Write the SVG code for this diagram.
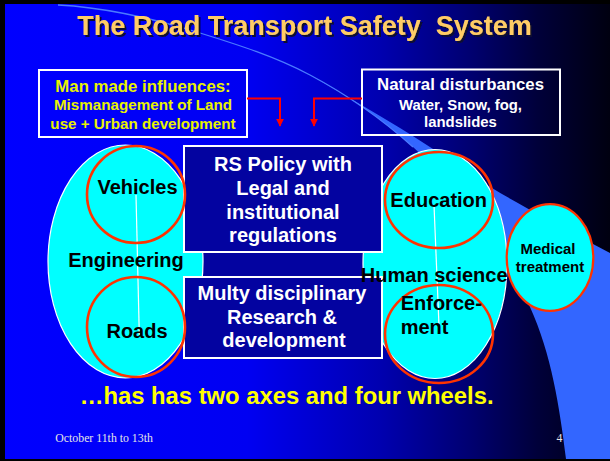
<svg xmlns="http://www.w3.org/2000/svg" width="610" height="461" viewBox="0 0 610 461">
  <style>
    .b { font-family: "Liberation Sans", Arial, sans-serif; font-weight: bold; }
    .wt { fill: #FFFFFF; }
    .bk { fill: #000000; }
    .ylw { fill: #E8F200; }
    .frame { fill: none; stroke: #FFFFFF; stroke-width: 2; }
    .panel { fill: #0303A0; stroke: #FFFFFF; stroke-width: 2; }
    .blob { fill: #00FFFF; stroke: #FFFFFF; stroke-width: 1.2; }
    .ring { fill: none; stroke: #FF3300; stroke-width: 2.6; }
    .link { fill: none; stroke: #FF0000; stroke-width: 2; }
    .axis { fill: none; stroke: #FFFFFF; stroke-width: 1.2; }
  </style>
  <defs>
    <linearGradient id="bg" gradientUnits="userSpaceOnUse" x1="5" y1="0" x2="610" y2="0">
      <stop offset="0" stop-color="#0000FF"/>
      <stop offset="0.40" stop-color="#0000F2"/>
      <stop offset="0.62" stop-color="#0000B0"/>
      <stop offset="0.77" stop-color="#000070"/>
      <stop offset="0.88" stop-color="#00003A"/>
      <stop offset="1" stop-color="#000010"/>
    </linearGradient>
    <filter id="shadow" x="-5%" y="-30%" width="110%" height="160%">
      <feDropShadow dx="2" dy="2" stdDeviation="0.4" flood-color="#101030" flood-opacity="1"/>
    </filter>
    <marker id="arr" viewBox="0 0 10 10" refX="9" refY="5" markerWidth="4" markerHeight="4" orient="auto">
      <path d="M0,0 L10,5 L0,10 Z" fill="#FF0000"/>
    </marker>
  </defs>

  <!-- slide frame and background -->
  <rect x="0" y="0" width="610" height="461" fill="#000000"/>
  <rect x="5" y="4" width="605" height="455" fill="url(#bg)"/>

  <!-- decorative swoosh -->
  <path d="M 310,75 C 347,94.6 381.9,119 413,147 C 462,191.2 502.7,247 530,307 C 551.5,354.3 559.6,407.4 566,459 L 610,459 L 610,253 C 560,226 520,205 492,188 C 460,168 430,146 400,128 C 370,110 340,92 310,75 Z" fill="#3366FF"/>
  <path d="M 58,5 C 106,7.4 154,18.7 200,33 C 237.5,44.6 275.3,56.6 310,75 C 347,94.6 381.9,119 413,147" fill="none" stroke="#4A7AFF" stroke-width="1.3"/>

  <!-- title -->
  <text class="b" x="304.5" y="35" font-size="27" text-anchor="middle" fill="#FFCC66" filter="url(#shadow)" style="white-space: pre">The Road Transport Safety  System</text>

  <!-- influence boxes -->
  <g id="man-made">
    <rect class="frame" x="39" y="70" width="208" height="67"/>
    <text class="b ylw" x="143" y="91.5" font-size="16.8" text-anchor="middle">Man made influences:</text>
    <text class="b ylw" x="143" y="110" font-size="15.2" text-anchor="middle">Mismanagement of Land</text>
    <text class="b ylw" x="143" y="128.5" font-size="15.2" text-anchor="middle">use + Urban development</text>
  </g>
  <g id="natural">
    <rect class="frame" x="362" y="69.5" width="198" height="65.5"/>
    <text class="b wt" x="460.5" y="90" font-size="16.8" text-anchor="middle">Natural disturbances</text>
    <text class="b wt" x="460.5" y="109.5" font-size="14.9" text-anchor="middle">Water, Snow, fog,</text>
    <text class="b wt" x="460.5" y="126.5" font-size="14.9" text-anchor="middle">landslides</text>
  </g>

  <!-- band joining the two wheel groups -->
  <g id="bridge">
    <rect class="panel" x="190" y="252" width="185" height="25"/>
  </g>

  <!-- large ellipses -->
  <g id="engineering">
    <ellipse class="blob" cx="125.5" cy="261.5" rx="77.5" ry="116.5"/>
  </g>
  <g id="human-science">
    <ellipse class="blob" cx="435" cy="264" rx="72" ry="114.5"/>
  </g>

  <!-- central panels -->
  <g id="policy">
    <rect class="panel" x="184" y="146" width="198" height="106"/>
    <text class="b wt" x="283" y="170.5" font-size="20" text-anchor="middle">RS Policy with</text>
    <text class="b wt" x="283" y="195" font-size="20" text-anchor="middle">Legal and</text>
    <text class="b wt" x="283" y="219" font-size="20" text-anchor="middle">institutional</text>
    <text class="b wt" x="283" y="242" font-size="20" text-anchor="middle">regulations</text>
  </g>
  <g id="research">
    <rect class="panel" x="184" y="277" width="198" height="81"/>
    <text class="b wt" x="282" y="300" font-size="20" text-anchor="middle">Multy disciplinary</text>
    <text class="b wt" x="282" y="324" font-size="20" text-anchor="middle">Research &amp;</text>
    <text class="b wt" x="284" y="346.5" font-size="20" text-anchor="middle">development</text>
  </g>

  <!-- connectors -->
  <g id="connectors">
    <path class="link" d="M 247,98.5 H 280 V 126" marker-end="url(#arr)"/>
    <path class="link" d="M 362,98.5 H 314 V 126" marker-end="url(#arr)"/>
    <line class="axis" x1="136" y1="195" x2="139.3" y2="335"/>
    <line class="axis" x1="434" y1="205" x2="439.3" y2="333"/>
  </g>

  <!-- wheels -->
  <g id="vehicles">
    <ellipse class="ring" cx="136" cy="194.5" rx="49" ry="48.5"/>
    <text class="b bk" x="137.5" y="194" font-size="20" text-anchor="middle">Vehicles</text>
  </g>
  <g id="roads">
    <ellipse class="ring" cx="136" cy="327" rx="49" ry="50"/>
    <text class="b bk" x="137" y="338.3" font-size="20" text-anchor="middle">Roads</text>
  </g>
  <g id="education">
    <ellipse class="ring" cx="439" cy="200" rx="54" ry="48"/>
    <text class="b bk" x="438.7" y="206.7" font-size="20" text-anchor="middle">Education</text>
  </g>
  <g id="enforcement">
    <ellipse class="ring" cx="439" cy="334" rx="54" ry="49"/>
    <text class="b bk" x="400.7" y="310" font-size="20">Enforce-</text>
    <text class="b bk" x="400.7" y="334" font-size="20">ment</text>
  </g>

  <!-- group labels -->
  <text class="b bk" x="126" y="266.7" font-size="20" text-anchor="middle">Engineering</text>
  <text class="b bk" x="434.2" y="281.7" font-size="20" text-anchor="middle">Human science</text>

  <g id="medical">
    <ellipse cx="550" cy="257.5" rx="43.3" ry="53.3" fill="#00FFFF" stroke="#FF3300" stroke-width="2.2"/>
    <text class="b bk" x="548" y="254.3" font-size="15" text-anchor="middle">Medical</text>
    <text class="b bk" x="550" y="271.7" font-size="15" text-anchor="middle">treatment</text>
  </g>

  <!-- caption and footer -->
  <text class="b" x="286.6" y="403.5" font-size="23.8" text-anchor="middle" fill="#FFFF00">…has has two axes and four wheels.</text>
  <text x="55.3" y="441.7" font-family="Liberation Serif, Times New Roman, serif" font-size="11.8" fill="#E6E6E6">October 11th to 13th</text>
  <text x="556.4" y="441.7" font-family="Liberation Serif, Times New Roman, serif" font-size="11.8" fill="#E6E6E6">4</text>
</svg>
